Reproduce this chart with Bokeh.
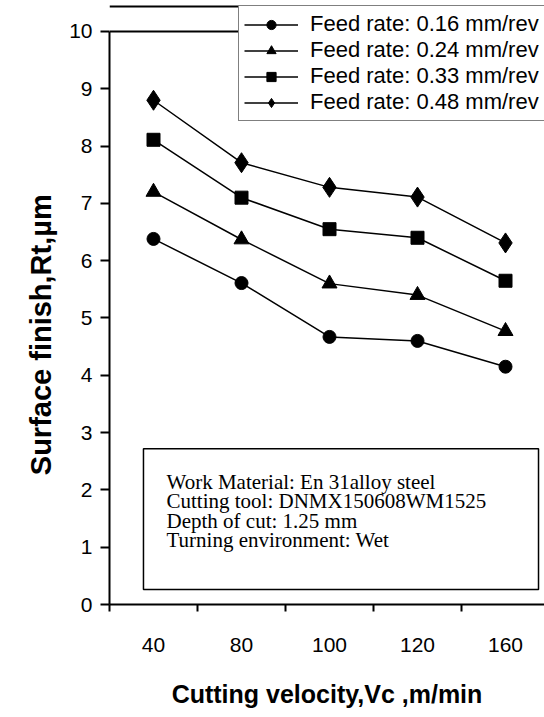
from bokeh.plotting import figure
from bokeh.models import Range1d, FixedTicker, Span, BoxAnnotation, Label, Legend, LegendItem
from bokeh.embed import file_html
from bokeh.resources import INLINE

# ---- data ----
velocity = ["40", "80", "100", "120", "160"]
feed_labels = ["Feed rate: 0.16 mm/rev", "Feed rate: 0.24 mm/rev",
               "Feed rate: 0.33 mm/rev", "Feed rate: 0.48 mm/rev"]
rt_016 = [6.38, 5.61, 4.67, 4.60, 4.15]
rt_024 = [7.20, 6.37, 5.60, 5.40, 4.77]
rt_033 = [8.11, 7.10, 6.55, 6.40, 5.65]
rt_048 = [8.80, 7.71, 7.28, 7.11, 6.31]
y_ticks = list(range(0, 11))
info_lines = ["Work Material: En 31alloy steel",
              "Cutting tool: DNMX150608WM1525",
              "Depth of cut: 1.25 mm",
              "Turning environment: Wet"]

xs = list(range(len(velocity)))
Y_TOP = 10.541  # leaves room above the 0-10 axis for the legend box

p = figure(width=544, height=717, x_range=Range1d(-0.5, 4.443), y_range=Range1d(0, Y_TOP),
           output_backend="svg", toolbar_location=None,
           min_border_left=109, min_border_right=0, min_border_top=0, min_border_bottom=113)
p.xgrid.visible = False
p.ygrid.visible = False
p.outline_line_color = None
p.background_fill_color = "white"
p.border_fill_color = "white"

# axes
xa = p.xaxis[0]
xa.ticker = FixedTicker(ticks=xs, minor_ticks=[i - 0.5 for i in range(len(velocity) + 1)])
xa.major_label_overrides = {i: v for i, v in enumerate(velocity)}
xa.major_tick_out = 0
xa.major_tick_in = 0
xa.minor_tick_out = 7
xa.minor_tick_in = 0
xa.minor_tick_line_color = "black"
xa.minor_tick_line_width = 2
xa.axis_line_color = "black"
xa.axis_line_width = 2
xa.major_label_text_font = "Liberation Sans"
xa.major_label_text_font_size = "21px"
xa.major_label_text_color = "black"
xa.major_label_standoff = 26
xa.axis_label = "Cutting velocity,Vc ,m/min"
xa.axis_label_text_font = "Liberation Sans"
xa.axis_label_text_font_style = "bold"
xa.axis_label_text_font_size = "25px"
xa.axis_label_text_color = "black"
xa.axis_label_standoff = 25

ya = p.yaxis[0]
ya.ticker = FixedTicker(ticks=y_ticks, minor_ticks=[])
ya.bounds = (0, 10)
ya.major_tick_out = 9
ya.major_tick_in = 0
ya.major_tick_line_color = "black"
ya.major_tick_line_width = 2
ya.axis_line_color = "black"
ya.axis_line_width = 2
ya.major_label_text_font = "Liberation Sans"
ya.major_label_text_font_size = "21px"
ya.major_label_text_color = "black"
ya.major_label_standoff = 8
ya.axis_label = "Surface finish,Rt,µm" + "\u00a0" * 8
ya.axis_label_text_font = "Liberation Sans"
ya.axis_label_text_font_style = "bold"
ya.axis_label_text_font_size = "29px"
ya.axis_label_text_color = "black"
ya.axis_label_standoff = 9

# top border of plot area and of the chart
p.add_layout(Span(location=10, dimension="width", line_color="black", line_width=2))
p.add_layout(Span(location=10.436, dimension="width", line_color="black", line_width=2))

# info box
p.add_layout(BoxAnnotation(left=-0.114, right=4.375, bottom=0.26, top=2.72,
                           fill_color="white", fill_alpha=1.0,
                           line_color="black", line_alpha=1.0, line_width=1.5, level="underlay"))
for t, yy in zip(info_lines, [2.14, 1.80, 1.46, 1.12]):
    p.add_layout(Label(x=0.148, y=yy, text=t, text_font="Liberation Serif",
                       text_font_size="21px", text_color="black", text_baseline="middle"))

series = [rt_016, rt_024, rt_033, rt_048]
markers = ["circle", "triangle", "square", "diamond"]
sizes = [13, 15, 13, 20]
items = []
for lab, ys, mk, sz in zip(feed_labels, series, markers, sizes):
    lr = p.line(xs, ys, line_color="black", line_width=1.5)
    sr = p.scatter(xs, ys, marker=mk, size=sz, fill_color="black", line_color="black")
    items.append(LegendItem(label=lab, renderers=[lr, sr]))

legend = Legend(items=items, location=(129, 483))
legend.border_line_color = "black"
legend.border_line_width = 1.5
legend.background_fill_color = "white"
legend.background_fill_alpha = 1.0
legend.padding = 5
legend.margin = 0
legend.spacing = 0
legend.glyph_height = 23
legend.glyph_width = 54
legend.label_height = 23
legend.label_standoff = 12
legend.label_text_font = "Liberation Sans"
legend.label_text_font_size = "22px"
legend.label_text_color = "black"
p.add_layout(legend)

open("out.html", "w").write(file_html(p, INLINE))
